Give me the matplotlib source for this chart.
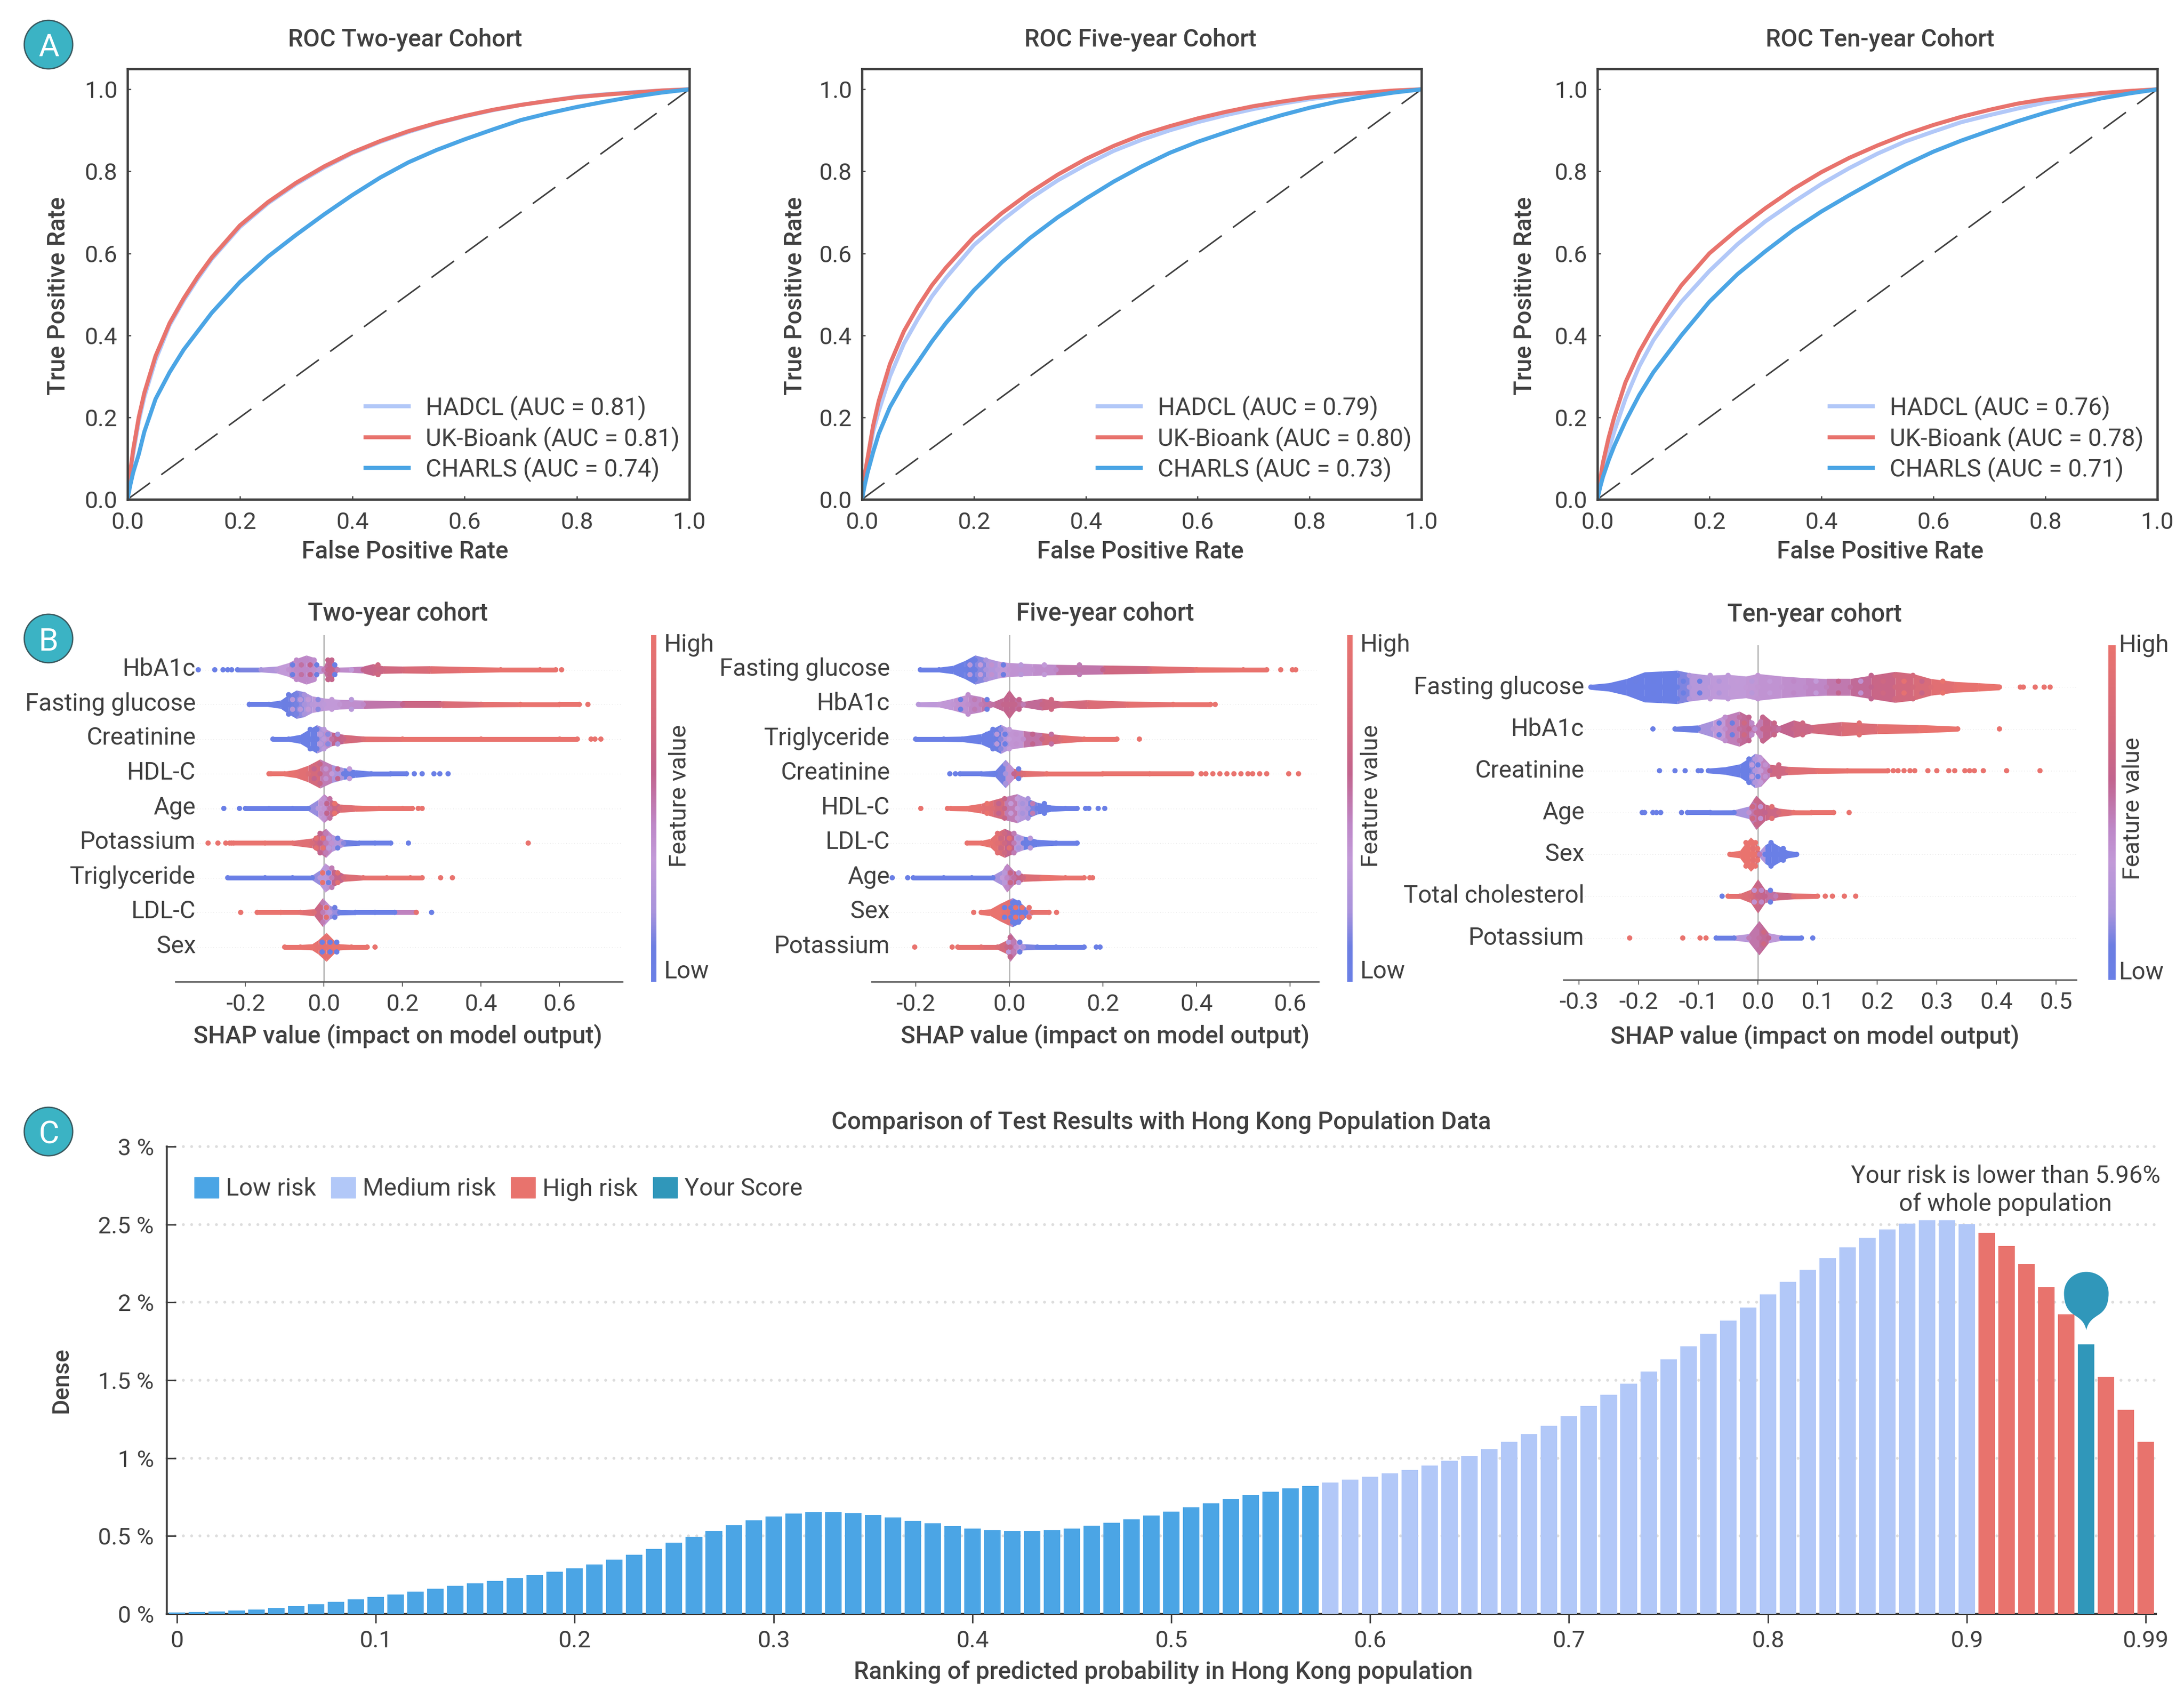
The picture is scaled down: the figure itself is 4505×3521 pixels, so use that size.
import numpy as np
import matplotlib
matplotlib.use("Agg")
import matplotlib.pyplot as plt
from matplotlib.cm import ScalarMappable
from matplotlib.colors import LinearSegmentedColormap
from matplotlib.patches import Circle, Patch
from matplotlib.path import Path
from matplotlib.transforms import ScaledTranslation

plt.rcParams['font.family'] = ['Roboto', 'DejaVu Sans']

W, H = 4505, 3521
TEXT = "#404040"
RED, BLUE, LIGHT, TEAL = "#E8736D", "#4BA5E5", "#B2C8F8", "#3097BA"

# ---- panel A, ROC curves
fpr = [0, .005, .01, .02, .03, .05, .075, .1, .125, .15, .2, .25, .3, .35, .4, .45, .5, .55, .6, .65, .7, .75, .8, .85, .9, .95, 1]
two_uk = [0, .07, .12, .2, .26, .35, .43, .49, .543, .59, .668, .725, .772, .812, .846, .874, .898, .918, .935, .95, .962, .972, .981, .987, .992, .997, 1]
two_hadcl = [0, .06, .11, .19, .25, .34, .425, .485, .538, .586, .664, .722, .769, .809, .844, .872, .896, .917, .934, .949, .962, .972, .982, .988, .993, .997, 1]
two_charls = [0, .035, .065, .11, .165, .245, .31, .365, .41, .455, .53, .592, .645, .695, .742, .785, .822, .852, .878, .902, .925, .942, .957, .97, .982, .992, 1]
five_uk = [0, .06, .1, .18, .24, .33, .41, .47, .522, .565, .64, .698, .748, .792, .83, .862, .889, .91, .929, .945, .959, .97, .98, .987, .992, .997, 1]
five_hadcl = [0, .05, .09, .165, .215, .3, .38, .44, .495, .54, .62, .68, .733, .778, .816, .85, .877, .9, .92, .937, .952, .965, .976, .984, .991, .996, 1]
five_charls = [0, .035, .065, .115, .16, .225, .285, .335, .385, .43, .51, .578, .637, .688, .733, .775, .812, .845, .872, .895, .917, .937, .955, .97, .982, .992, 1]
ten_uk = [0, .05, .09, .15, .2, .285, .36, .42, .473, .522, .6, .658, .71, .757, .798, .833, .863, .89, .913, .933, .95, .965, .976, .984, .991, .996, 1]
ten_hadcl = [0, .04, .07, .12, .165, .245, .325, .388, .437, .482, .557, .622, .678, .725, .769, .808, .843, .873, .897, .92, .937, .953, .968, .98, .989, .995, 1]
ten_charls = [0, .03, .055, .095, .13, .19, .255, .31, .355, .4, .482, .549, .605, .657, .702, .742, .78, .816, .848, .875, .899, .922, .943, .962, .978, .99, 1]

roc_titles = ["ROC Two-year Cohort", "ROC Five-year Cohort", "ROC Ten-year Cohort"]
roc_curves = [(two_hadcl, two_uk, two_charls), (five_hadcl, five_uk, five_charls), (ten_hadcl, ten_uk, ten_charls)]
roc_auc = [("0.81", "0.81", "0.74"), ("0.79", "0.80", "0.73"), ("0.76", "0.78", "0.71")]
roc_names = ["HADCL", "UK-Bioank", "CHARLS"]

# ---- panel B, shape of each swarm: x = SHAP value, h = half height in rows,
# c = main feature value, s = speckle feature value, ox/oc = lone dots
t_hba1c_x = [-.22, -.16, -.12, -.09, -.07, -.045, -.025, -.012, 0, .01, .02, .035, .07, .1, .125, .15, .2, .27, .35, .45, .55, .59]
t_hba1c_h = [.04, .06, .1, .2, .32, .42, .35, .12, .1, .36, .3, .07, .08, .1, .17, .11, .1, .11, .09, .07, .06, .05]
t_hba1c_c = [.05, .2, .3, .4, .45, .45, .42, .3, .5, .62, .62, .5, .35, .6, .65, .68, .75, .85, .95, 1, 1, 1]
t_hba1c_s = [0, .3, .1, .1, .55, .6, .1, .05, .6, .6, 0, .05, .05, .55, .7, .7, .8, .9, 1, 1, 1, 1]
t_hba1c_ox = [-.32, -.278, -.257, -.245, -.235, .605]
t_hba1c_oc = [0, 0, 0, 0, 0, 1]
t_gluc_x = [-.19, -.14, -.11, -.09, -.07, -.05, -.03, 0, .04, .1, .2, .3, .4, .5, .6, .65]
t_gluc_h = [.04, .06, .12, .28, .41, .36, .24, .18, .14, .12, .1, .1, .08, .07, .06, .05]
t_gluc_c = [0, .02, .05, .1, .12, .2, .3, .33, .38, .45, .6, .75, .9, 1, 1, 1]
t_gluc_s = [0, 0, .02, .3, .3, .35, .15, .35, .3, .5, .55, .9, 1, 1, 1, 1]
t_gluc_ox = [-.19, .672]
t_gluc_oc = [0, 1]
t_crea_x = [-.13, -.09, -.06, -.035, -.018, 0, .02, .05, .1, .2, .4, .6, .645]
t_crea_h = [.04, .07, .13, .3, .41, .32, .2, .13, .08, .07, .06, .05, .04]
t_crea_c = [0, 0, .02, .05, .1, .3, .55, .65, .85, 1, 1, 1, 1]
t_crea_s = [0, 0, 0, .05, .3, .15, .2, .7, .9, 1, 1, 1, 1]
t_crea_ox = [.68, .69, .705]
t_crea_oc = [1, 1, 1]
t_hdl_x = [-.135, -.1, -.07, -.04, -.01, .02, .05, .08, .12, .17, .21]
t_hdl_h = [.04, .06, .12, .24, .42, .26, .17, .11, .07, .05, .04]
t_hdl_c = [1, 1, .95, .85, .65, .35, .1, 0, 0, 0, 0]
t_hdl_s = [1, .9, 1, .6, .4, .6, .35, .05, 0, 0, 0]
t_hdl_ox = [-.14, .23, .25, .28, .295, .316]
t_hdl_oc = [1, 0, 0, 0, 0, 0]
t_age_x = [-.2, -.14, -.08, -.04, -.015, 0, .015, .04, .08, .14, .2, .225]
t_age_h = [.03, .035, .04, .06, .25, .42, .28, .12, .09, .06, .05, .04]
t_age_c = [0, 0, 0, .05, .3, .4, .55, .8, .95, 1, 1, 1]
t_age_s = [0, 0, 0, .2, .4, .6, 1, .1, .9, 1, 1, 1]
t_age_ox = [-.255, -.215, .24, .25]
t_age_oc = [0, 0, 1, 1]
t_pot_x = [-.23, -.15, -.08, -.03, -.01, .005, .02, .05, .09, .13, .17]
t_pot_h = [.04, .05, .06, .14, .3, .42, .25, .1, .06, .05, .04]
t_pot_c = [1, 1, .95, .8, .6, .5, .4, .15, .05, 0, 0]
t_pot_s = [1, 1, 1, .9, .95, .3, .1, .05, 0, 0, 0]
t_pot_ox = [-.295, -.27, -.25, -.24, -.235, .215, .52]
t_pot_oc = [1, 1, 1, 1, 1, 0, 1]
t_tg_x = [-.245, -.15, -.08, -.03, -.01, .003, .02, .05, .1, .16, .22, .25]
t_tg_h = [.04, .05, .05, .07, .22, .42, .28, .11, .07, .06, .05, .04]
t_tg_c = [0, 0, 0, .05, .3, .3, .5, .75, .95, 1, 1, 1]
t_tg_s = [0, 0, 0, .1, 1, .05, .9, 1, 1, 1, 1, 1]
t_tg_ox = [.297, .327]
t_tg_oc = [1, 1]
t_ldl_x = [-.17, -.11, -.06, -.025, -.003, .015, .04, .08, .13, .18, .235]
t_ldl_h = [.03, .04, .05, .1, .42, .2, .08, .05, .04, .04, .03]
t_ldl_c = [1, 1, .95, .85, .5, .3, .05, 0, 0, 0, .95]
t_ldl_s = [1, .95, .1, 1, .9, .1, .3, .1, .9, 1, 1]
t_ldl_ox = [-.212, .274]
t_ldl_oc = [1, 0]
t_sex_x = [-.1, -.06, -.03, -.015, .006, .025, .04, .07, .11]
t_sex_h = [.03, .05, .09, .2, .42, .2, .09, .05, .03]
t_sex_c = [1, 1, 1, .95, .95, 1, 1, 1, 1]
t_sex_s = [1, 0, 0, 0, 0, 0, 0, .9, .3]
t_sex_ox = [.13]
t_sex_oc = [1]

f_gluc_x = [-.19, -.15, -.12, -.095, -.073, -.05, -.025, 0, .05, .1, .2, .3, .4, .5, .55]
f_gluc_h = [.04, .06, .12, .26, .42, .34, .25, .2, .17, .15, .13, .11, .08, .06, .05]
f_gluc_c = [0, 0, .02, .05, .1, .2, .3, .38, .4, .45, .6, .8, 1, 1, 1]
f_gluc_s = [0, 0, 0, .3, .35, .4, .1, .3, .35, .5, .6, .9, 1, 1, 1]
f_gluc_ox = [.58, .605, .612]
f_gluc_oc = [1, 1, 1]
f_hba1c_x = [-.194, -.15, -.12, -.088, -.06, -.035, -.012, 0, .012, .03, .07, .11, .166, .25, .35, .43]
f_hba1c_h = [.04, .08, .17, .29, .22, .07, .2, .42, .2, .08, .17, .09, .13, .09, .07, .05]
f_hba1c_c = [.3, .35, .38, .42, .5, .55, .62, .62, .62, .5, .65, .7, .78, .9, 1, 1]
f_hba1c_s = [.35, .3, .1, .5, .1, .3, .6, .6, .6, .05, .7, .85, .75, 1, 1, 1]
f_hba1c_ox = [.44]
f_hba1c_oc = [1]
f_tg_x = [-.2, -.14, -.1, -.06, -.035, -.018, 0, .03, .07, .11, .16, .23]
f_tg_h = [.04, .05, .08, .15, .3, .42, .3, .24, .18, .12, .07, .05]
f_tg_c = [0, 0, 0, .02, .05, .15, .35, .42, .65, .85, 1, 1]
f_tg_s = [0, 0, 0, 0, .3, .05, .4, .6, .55, 1, 1, 1]
f_tg_ox = [.278]
f_tg_oc = [1]
f_crea_x = [-.105, -.06, -.03, -.008, .01, .03, .08, .2, .3, .39]
f_crea_h = [.03, .05, .09, .41, .15, .09, .07, .06, .055, .05]
f_crea_c = [0, 0, .02, .2, .6, .85, 1, 1, 1, 1]
f_crea_s = [0, 0, .1, .4, .1, .6, .95, 1, 1, 1]
f_crea_ox = [-.127, -.115, .41, .42, .435, .45, .465, .48, .495, .51, .52, .535, .55, .597, .618]
f_crea_oc = [0, 0, 1, 1, 1, 1, 1, 1, 1, 1, 1, 1, 1, 1, 1]
f_hdl_x = [-.125, -.09, -.06, -.035, -.01, .017, .04, .06, .09, .12, .145]
f_hdl_h = [.05, .08, .14, .24, .33, .42, .28, .17, .09, .06, .05]
f_hdl_c = [1, 1, .95, .85, .65, .35, .2, .05, 0, 0, 0]
f_hdl_s = [1, .95, 1, .6, .35, .2, .5, 0, 0, 0, 0]
f_hdl_ox = [-.189, -.132, .163, .17, .19, .204]
f_hdl_oc = [1, 1, 0, 0, 0, 0]
f_ldl_x = [-.09, -.06, -.04, -.025, -.01, .01, .03, .06, .1, .145]
f_ldl_h = [.05, .06, .13, .32, .42, .3, .2, .1, .07, .05]
f_ldl_c = [1, 1, .98, .9, .7, .5, .1, 0, 0, 0]
f_ldl_s = [1, 1, .95, .7, .9, .2, .3, .05, 0, 0]
f_ldl_ox = []
f_ldl_oc = []
f_age_x = [-.205, -.14, -.08, -.035, -.015, -.005, .01, .03, .07, .12, .16]
f_age_h = [.03, .035, .04, .07, .22, .42, .2, .11, .09, .07, .05]
f_age_c = [0, 0, 0, .05, .35, .45, .55, .7, 1, 1, 1]
f_age_s = [0, 0, 0, .2, .3, .65, .3, .1, .9, 1, 1]
f_age_ox = [-.25, -.217, .172, .178]
f_age_oc = [0, 0, 1, 1]
f_sex_x = [-.06, -.04, -.02, 0, .007, .02, .035, .05, .085]
f_sex_h = [.04, .1, .25, .38, .42, .33, .15, .06, .04]
f_sex_c = [1, 1, 1, .9, .05, 0, .02, .95, 1]
f_sex_s = [1, 0, 0, 0, 1, 1, 1, .1, 1]
f_sex_ox = [-.076, .101]
f_sex_oc = [1, 1]
f_pot_x = [-.11, -.06, -.025, -.005, .002, .015, .03, .06, .1, .16]
f_pot_h = [.04, .05, .06, .2, .42, .2, .09, .06, .05, .04]
f_pot_c = [1, .95, .85, .65, .6, .45, .2, .05, 0, 0]
f_pot_s = [1, 1, .9, .3, .5, .1, .05, .3, 0, 0]
f_pot_ox = [-.202, -.122, .186, .194]
f_pot_oc = [1, 1, 0, 0]

n_gluc_x = [-.28, -.25, -.22, -.19, -.16, -.135, -.115, -.08, -.05, -.02, 0, .04, .08, .115, .155, .19, .23, .26, .29, .33, .37, .405]
n_gluc_h = [.06, .1, .2, .36, .38, .4, .34, .28, .3, .26, .32, .26, .22, .2, .2, .28, .37, .32, .2, .13, .1, .07]
n_gluc_c = [0, 0, 0, 0, .02, .02, .25, .32, .33, .36, .38, .4, .43, .48, .55, .6, .72, .75, .85, .95, 1, 1]
n_gluc_s = [.05, .02, .05, .02, 0, .05, .05, .25, .35, .3, .35, .45, .35, .6, .4, .7, .95, .65, 1, .8, 1, 1]
n_gluc_ox = [.44, .445, .465, .48, .49]
n_gluc_oc = [1, 1, 1, 1, 1]
n_hba1c_x = [-.139, -.1, -.075, -.055, -.031, -.015, -.005, .008, .02, .035, .06, .09, .14, .2, .27, .335]
n_hba1c_h = [.05, .09, .2, .32, .42, .3, .08, .36, .22, .07, .21, .1, .17, .12, .1, .06]
n_hba1c_c = [.05, .1, .3, .42, .55, .6, .4, .62, .62, .55, .65, .68, .78, .88, 1, 1]
n_hba1c_s = [.1, .3, .05, .1, .7, .45, 0, .6, .65, .6, .7, .65, .9, .9, 1, 1]
n_hba1c_ox = [-.176, .405]
n_hba1c_oc = [0, 1]
n_crea_x = [-.083, -.055, -.03, -.015, -.005, .005, .02, .05, .1, .15, .218]
n_crea_h = [.05, .09, .16, .3, .41, .38, .15, .1, .07, .06, .05]
n_crea_c = [0, 0, .02, .05, .25, .35, .6, .8, .95, 1, 1]
n_crea_s = [0, 0, 0, .35, .05, .4, .7, .9, 1, 1, 1]
n_crea_ox = [-.165, -.139, -.122, -.1, -.095, .227, .235, .245, .255, .263, .285, .3, .32, .33, .347, .355, .363, .378, .417, .473]
n_crea_oc = [0, 0, 0, 0, 0, 1, 1, 1, 1, 1, 1, 1, 1, 1, 1, 1, 1, 1, 1, 1]
n_age_x = [-.118, -.08, -.04, -.015, -.003, .012, .035, .06, .09, .127]
n_age_h = [.05, .05, .06, .15, .41, .2, .1, .06, .05, .04]
n_age_c = [0, 0, .02, .4, .65, .6, .75, .98, 1, 1]
n_age_s = [.05, 0, .6, .7, .4, .9, .05, .1, 1, 1]
n_age_ox = [-.194, -.19, -.176, -.17, -.163, -.128, .153]
n_age_oc = [0, 0, 0, 0, 0, .1, 1]
n_sex_x = [-.047, -.03, -.02, -.012, -.004, .003, .012, .022, .035, .05, .065]
n_sex_h = [.05, .09, .28, .41, .3, .08, .22, .31, .2, .09, .05]
n_sex_c = [1, 1, 1, 1, 1, .5, 0, 0, 0, 0, 0]
n_sex_s = [1, 1, 1, .95, 1, 0, 0, 0, 0, 0, 0]
n_sex_ox = []
n_sex_oc = []
n_chol_x = [-.05, -.03, -.012, 0, .012, .03, .06, .1]
n_chol_h = [.04, .06, .16, .41, .16, .1, .07, .05]
n_chol_c = [1, .9, .8, .65, .6, .5, .9, 1]
n_chol_s = [0, .05, .4, .45, .05, 0, .05, 1]
n_chol_ox = [-.06, .113, .125, .145, .164]
n_chol_oc = [0, 1, 1, 1, 1]
n_pot_x = [-.07, -.04, -.015, .002, .018, .04, .073]
n_pot_h = [.04, .05, .1, .41, .12, .06, .04]
n_pot_c = [0, .1, .5, .55, .6, .05, 0]
n_pot_s = [.95, .8, .05, .7, .95, .95, 0]
n_pot_ox = [-.215, -.126, -.097, -.087, .092]
n_pot_oc = [1, 1, 1, 1, 0]

two_rows = [("HbA1c", t_hba1c_x, t_hba1c_h, t_hba1c_c, t_hba1c_s, t_hba1c_ox, t_hba1c_oc),
            ("Fasting glucose", t_gluc_x, t_gluc_h, t_gluc_c, t_gluc_s, t_gluc_ox, t_gluc_oc),
            ("Creatinine", t_crea_x, t_crea_h, t_crea_c, t_crea_s, t_crea_ox, t_crea_oc),
            ("HDL-C", t_hdl_x, t_hdl_h, t_hdl_c, t_hdl_s, t_hdl_ox, t_hdl_oc),
            ("Age", t_age_x, t_age_h, t_age_c, t_age_s, t_age_ox, t_age_oc),
            ("Potassium", t_pot_x, t_pot_h, t_pot_c, t_pot_s, t_pot_ox, t_pot_oc),
            ("Triglyceride", t_tg_x, t_tg_h, t_tg_c, t_tg_s, t_tg_ox, t_tg_oc),
            ("LDL-C", t_ldl_x, t_ldl_h, t_ldl_c, t_ldl_s, t_ldl_ox, t_ldl_oc),
            ("Sex", t_sex_x, t_sex_h, t_sex_c, t_sex_s, t_sex_ox, t_sex_oc)]
five_rows = [("Fasting glucose", f_gluc_x, f_gluc_h, f_gluc_c, f_gluc_s, f_gluc_ox, f_gluc_oc),
             ("HbA1c", f_hba1c_x, f_hba1c_h, f_hba1c_c, f_hba1c_s, f_hba1c_ox, f_hba1c_oc),
             ("Triglyceride", f_tg_x, f_tg_h, f_tg_c, f_tg_s, f_tg_ox, f_tg_oc),
             ("Creatinine", f_crea_x, f_crea_h, f_crea_c, f_crea_s, f_crea_ox, f_crea_oc),
             ("HDL-C", f_hdl_x, f_hdl_h, f_hdl_c, f_hdl_s, f_hdl_ox, f_hdl_oc),
             ("LDL-C", f_ldl_x, f_ldl_h, f_ldl_c, f_ldl_s, f_ldl_ox, f_ldl_oc),
             ("Age", f_age_x, f_age_h, f_age_c, f_age_s, f_age_ox, f_age_oc),
             ("Sex", f_sex_x, f_sex_h, f_sex_c, f_sex_s, f_sex_ox, f_sex_oc),
             ("Potassium", f_pot_x, f_pot_h, f_pot_c, f_pot_s, f_pot_ox, f_pot_oc)]
ten_rows = [("Fasting glucose", n_gluc_x, n_gluc_h, n_gluc_c, n_gluc_s, n_gluc_ox, n_gluc_oc),
            ("HbA1c", n_hba1c_x, n_hba1c_h, n_hba1c_c, n_hba1c_s, n_hba1c_ox, n_hba1c_oc),
            ("Creatinine", n_crea_x, n_crea_h, n_crea_c, n_crea_s, n_crea_ox, n_crea_oc),
            ("Age", n_age_x, n_age_h, n_age_c, n_age_s, n_age_ox, n_age_oc),
            ("Sex", n_sex_x, n_sex_h, n_sex_c, n_sex_s, n_sex_ox, n_sex_oc),
            ("Total cholesterol", n_chol_x, n_chol_h, n_chol_c, n_chol_s, n_chol_ox, n_chol_oc),
            ("Potassium", n_pot_x, n_pot_h, n_pot_c, n_pot_s, n_pot_ox, n_pot_oc)]

# ---- panel C, one bar per percentile
dense = [.01, .013, .015, .023, .028, .038, .05, .063, .078, .093,
         .108, .126, .144, .161, .179, .197, .212, .23, .25, .27,
         .293, .318, .349, .381, .417, .458, .495, .533, .569, .602,
         .627, .644, .654, .654, .648, .636, .62, .599, .581, .562,
         .548, .537, .531, .531, .538, .549, .566, .584, .608, .631,
         .658, .685, .71, .737, .762, .784, .805, .823, .844, .862,
         .88, .903, .925, .953, .984, 1.016, 1.057, 1.104, 1.154, 1.209,
         1.27, 1.336, 1.406, 1.478, 1.555, 1.635, 1.717, 1.8, 1.884, 1.968,
         2.052, 2.131, 2.209, 2.284, 2.354, 2.415, 2.467, 2.504, 2.528, 2.528,
         2.502, 2.447, 2.362, 2.246, 2.098, 1.923, 1.729, 1.523, 1.309, 1.104]
low_end = 57     # last low risk bar
medium_end = 90  # last medium risk bar
score_bar = 96
risk_ticks = [0, .1, .2, .3, .4, .5, .6, .7, .8, .9, .99]
risk_labels = ["0", "0.1", "0.2", "0.3", "0.4", "0.5", "0.6", "0.7", "0.8", "0.9", "0.99"]
dense_ticks = [0, .5, 1, 1.5, 2, 2.5, 3]
dense_labels = ["0 %", "0.5 %", "1 %", "1.5 %", "2 %", "2.5 %", "3 %"]

shap_colors = [(0, "#6A7FE6"), (.1, "#6C7EE2"), (.2, "#A893DC"), (.35, "#C29AD8"), (.45, "#BE88C8"),
               (.6, "#C2648E"), (.75, "#D46A7C"), (1, "#E9736E")]
shap_cmap = LinearSegmentedColormap.from_list("shap_like", shap_colors)

fig = plt.figure(figsize=(W / 100, H / 100), dpi=100, facecolor="white")


def px_axes(left, top, right, bottom):
    return fig.add_axes([left / W, 1 - bottom / H, (right - left) / W, (bottom - top) / H])


def style_ticks(ax, **kw):
    ax.tick_params(labelsize=35, labelcolor=TEXT, color=TEXT, **kw)


# panel A
roc_boxes = [(263, 142, 1422, 1030), (1778, 142, 2932, 1030), (3295, 142, 4450, 1030)]
roc_ylabel_x = [-.123, -.12, -.13]
roc_text_x = [.494, .498, .505]
roc_legend_x = [.983, .983, .976]
for k, box in enumerate(roc_boxes):
    ax = px_axes(*box)
    ax.plot([0, 1], [0, 1], color=TEXT, lw=2.3, dashes=(18, 9), zorder=1)
    for name, auc, curve, col in zip(roc_names, roc_auc[k], roc_curves[k], [LIGHT, RED, BLUE]):
        ax.plot(fpr, curve, color=col, lw=6, label=f"{name} (AUC = {auc})", solid_joinstyle="round", zorder=2)
    ax.set_xlim(0, 1)
    ax.set_ylim(0, 1.05)
    ax.set_xticks([0, .2, .4, .6, .8, 1])
    ax.set_yticks([0, .2, .4, .6, .8, 1])
    style_ticks(ax, direction="in", length=5, width=1.8)
    ax.tick_params(axis="x", pad=18)
    ax.tick_params(axis="y", pad=15)
    for sp in ax.spines.values():
        sp.set_linewidth(3.4)
        sp.set_color(TEXT)
    ax.set_title(roc_titles[k], fontsize=36, weight="medium", color=TEXT, x=roc_text_x[k], y=1.058, va="center")
    ax.set_xlabel("False Positive Rate", fontsize=36, weight="medium", color=TEXT, va="center")
    ax.set_ylabel("True Positive Rate", fontsize=36, weight="medium", color=TEXT, va="center")
    ax.xaxis.set_label_coords(roc_text_x[k], -.122)
    ax.yaxis.set_label_coords(roc_ylabel_x[k], .472)
    ax.legend(loc="lower right", bbox_to_anchor=(roc_legend_x[k], .04), frameon=False, fontsize=36, labelcolor=TEXT,
              handlelength=1.78, handletextpad=.7, labelspacing=.24, borderaxespad=0, borderpad=0)


# panel B
def draw_swarm(ax, row, dot_r, x, h, c, s, ox, oc):
    x = np.array(x)
    band = np.maximum(np.array(h), dot_r)
    for i in range(len(x) - 1):
        ax.fill_between(x[i:i + 2], row - band[i:i + 2], row + band[i:i + 2], lw=0, zorder=2,
                        color=shap_cmap((c[i] + c[i + 1]) / 2))
    dx, dy, dc = [], [], []
    for i in range(len(x)):
        gap = x[min(i + 1, len(x) - 1)] - x[i]
        n = int(band[i] / .14)
        for j in range(-n, n + 1):
            # every other dot sits half way to the next knot so the speckles do not line up
            dx.append(x[i] if j % 2 == 0 else x[i] + gap / 2)
            dy.append(row + j * .14)
            dc.append(c[i] if j % 2 == 0 else s[i])
    ax.scatter(dx + list(ox), dy + [row] * len(ox), c=dc + list(oc), cmap=shap_cmap, vmin=0, vmax=1,
               s=62, linewidths=0, zorder=3)


swarm_panels = [("Two-year cohort", two_rows, (362, 1310, 1284, 2025), (-.378, .76), [-.2, 0, .2, .4, .6],
                 -30, (1343, 1310, 1354, 2025), -.159, 1.05, .497, 7, 59, 27, .972, .03),
                ("Five-year cohort", five_rows, (1798, 1310, 2720, 2025), (-.294, .661), [-.2, 0, .2, .4, .6],
                 -27, (2779, 1310, 2790, 2025), -.159, 1.05, .522, 7, 50, 27, .972, .03),
                ("Ten-year cohort", ten_rows, (3225, 1331, 4283, 2021), (-.326, .534),
                 [-.3, -.2, -.1, 0, .1, .2, .3, .4, .5], -31, (4349, 1331, 4364, 2021), -.171, 1.08, .49, 5, 51, 22,
                 1.0, .022)]
for title, rows, box, xlim, xticks, pad, bar_box, xlab_y, title_y, text_x, lift, fv_dx, hl_dx, hi_y, lo_y in swarm_panels:
    ax = px_axes(*box)
    n = len(rows)
    row_px = (box[3] - box[1]) / (n + 1)
    ax.axvline(0, color="#BBBBBB", lw=2.2, zorder=1)
    for i, r in enumerate(rows):
        ax.axhline(n - 1 - i, color="#DDDDDD", lw=.8, dashes=(1, 4), zorder=0)
        draw_swarm(ax, n - 1 - i, 5 / row_px, *r[1:])
    ax.set_xlim(*xlim)
    ax.set_ylim(-1, n)
    ax.set_xticks(xticks)
    ax.set_xticklabels([f"{v:.1f}" for v in xticks])
    ax.set_yticks(range(n))
    ax.set_yticklabels([r[0] for r in rows][::-1], fontsize=36)
    style_ticks(ax, length=7, width=1.2)
    ax.tick_params(axis="x", pad=10)
    ax.tick_params(axis="y", length=0, pad=pad, labelsize=36)
    for lab in ax.get_yticklabels():
        lab.set_transform(lab.get_transform() + ScaledTranslation(0, lift / 100, fig.dpi_scale_trans))
    for side in ["top", "left", "right"]:
        ax.spines[side].set_visible(False)
    ax.spines["bottom"].set_linewidth(2)
    ax.spines["bottom"].set_color("#555555")
    ax.set_title(title, fontsize=36.5, weight="medium", color=TEXT, x=text_x, y=title_y, va="center")
    ax.set_xlabel("SHAP value (impact on model output)", fontsize=36, weight="medium", color=TEXT, va="center")
    ax.xaxis.set_label_coords(text_x, xlab_y)

    cax = px_axes(*bar_box)
    bar_w = bar_box[2] - bar_box[0]
    cb = fig.colorbar(ScalarMappable(cmap=shap_cmap), cax=cax)
    cb.outline.set_visible(False)
    cb.set_ticks([])
    cax.text(hl_dx / bar_w, hi_y, "High", transform=cax.transAxes, fontsize=36, color=TEXT, va="center")
    cax.text(hl_dx / bar_w, lo_y, "Low", transform=cax.transAxes, fontsize=36, color=TEXT, va="center")
    cax.text(fv_dx / bar_w, .5 + (8 if n == 7 else 26) / (bar_box[3] - bar_box[1]), "Feature value",
             transform=cax.transAxes, fontsize=35.5, color=TEXT, va="center", ha="center", rotation=90)

# panel C
ax = px_axes(344, 2365, 4447, 3329)
positions = np.arange(len(dense)) / 100
colors = []
for i in range(len(dense)):
    if i == score_bar:
        colors.append(TEAL)
    elif i <= low_end:
        colors.append(BLUE)
    elif i <= medium_end:
        colors.append(LIGHT)
    else:
        colors.append(RED)
ax.bar(positions, dense, width=.0083, color=colors, zorder=3)
ax.set_xlim(-.0051, .9951)
ax.set_ylim(0, 3)
ax.set_xticks(risk_ticks)
ax.set_xticklabels(risk_labels)
ax.set_yticks(dense_ticks)
ax.set_yticklabels(dense_labels)
style_ticks(ax, width=2.2)
ax.tick_params(axis="x", direction="out", length=14, pad=10)
ax.tick_params(axis="y", direction="in", length=14, pad=19)
for side in ["top", "right"]:
    ax.spines[side].set_visible(False)
for side in ["left", "bottom"]:
    ax.spines[side].set_linewidth(3)
    ax.spines[side].set_color(TEXT)
ax.set_axisbelow(True)
ax.grid(axis="y", color="#DDDDDD", lw=4.3, linestyle=(0, (.01, 2.85)), dash_capstyle="round")
for gl in ax.get_ygridlines():
    gl.set_clip_on(False)
ax.set_title("Comparison of Test Results with Hong Kong Population Data", fontsize=36, weight="medium", color=TEXT,
             y=1.043, va="center")
ax.set_xlabel("Ranking of predicted probability in Hong Kong population", fontsize=36, weight="medium", color=TEXT,
              va="center")
ax.set_ylabel("Dense", fontsize=35, weight="medium", color=TEXT, va="center")
ax.xaxis.set_label_coords(.501, -.124)
ax.yaxis.set_label_coords(-.053, .5)
legend_items = [("Low risk", BLUE), ("Medium risk", LIGHT), ("High risk", RED), ("Your Score", TEAL)]
ax.legend(handles=[Patch(color=col, label=name) for name, col in legend_items], ncol=4, loc="upper left",
          bbox_to_anchor=(.014, .935), frameon=False, fontsize=36, labelcolor=TEXT, handlelength=1.0,
          handleheight=.95, handletextpad=.3, columnspacing=.62, borderaxespad=0, borderpad=0)
ax.text(.9195, 2.72, "Your risk is lower than 5.96%\nof whole population", fontsize=36, color=TEXT, ha="center",
        va="center", linespacing=1.27)

# location pin above the score bar, drawn as a marker with its origin on the bar top
pin_right = [(0, 30), (4, 48), (14, 54), (26, 62), (38, 70), (46, 82), (46, 106), (46, 132), (25, 150), (0, 150)]
pin_left = [(-px, py) for px, py in pin_right[-2::-1]]
pin_codes = [Path.MOVETO] + [Path.CURVE4] * (len(pin_right) + len(pin_left) - 1)
pin = Path(pin_right + pin_left, pin_codes)
ax.scatter([positions[score_bar]], [dense[score_bar]], marker=pin, s=46656, color=TEAL, linewidths=0, zorder=4,
           clip_on=False)

# panel letters on a full figure overlay
over = fig.add_axes([0, 0, 1, 1], zorder=10)
over.set_xlim(0, W)
over.set_ylim(H, 0)
over.axis("off")
for letter, cy in zip("ABC", [92, 1317, 2334]):
    over.add_patch(Circle((100, cy), 50, facecolor="#3BB3C4", edgecolor="#3A5A60", lw=2))
    over.text(100, cy, letter, color="white", fontsize=47, ha="center", va="center_baseline")

fig.savefig("out.png", dpi=100, facecolor="white")
